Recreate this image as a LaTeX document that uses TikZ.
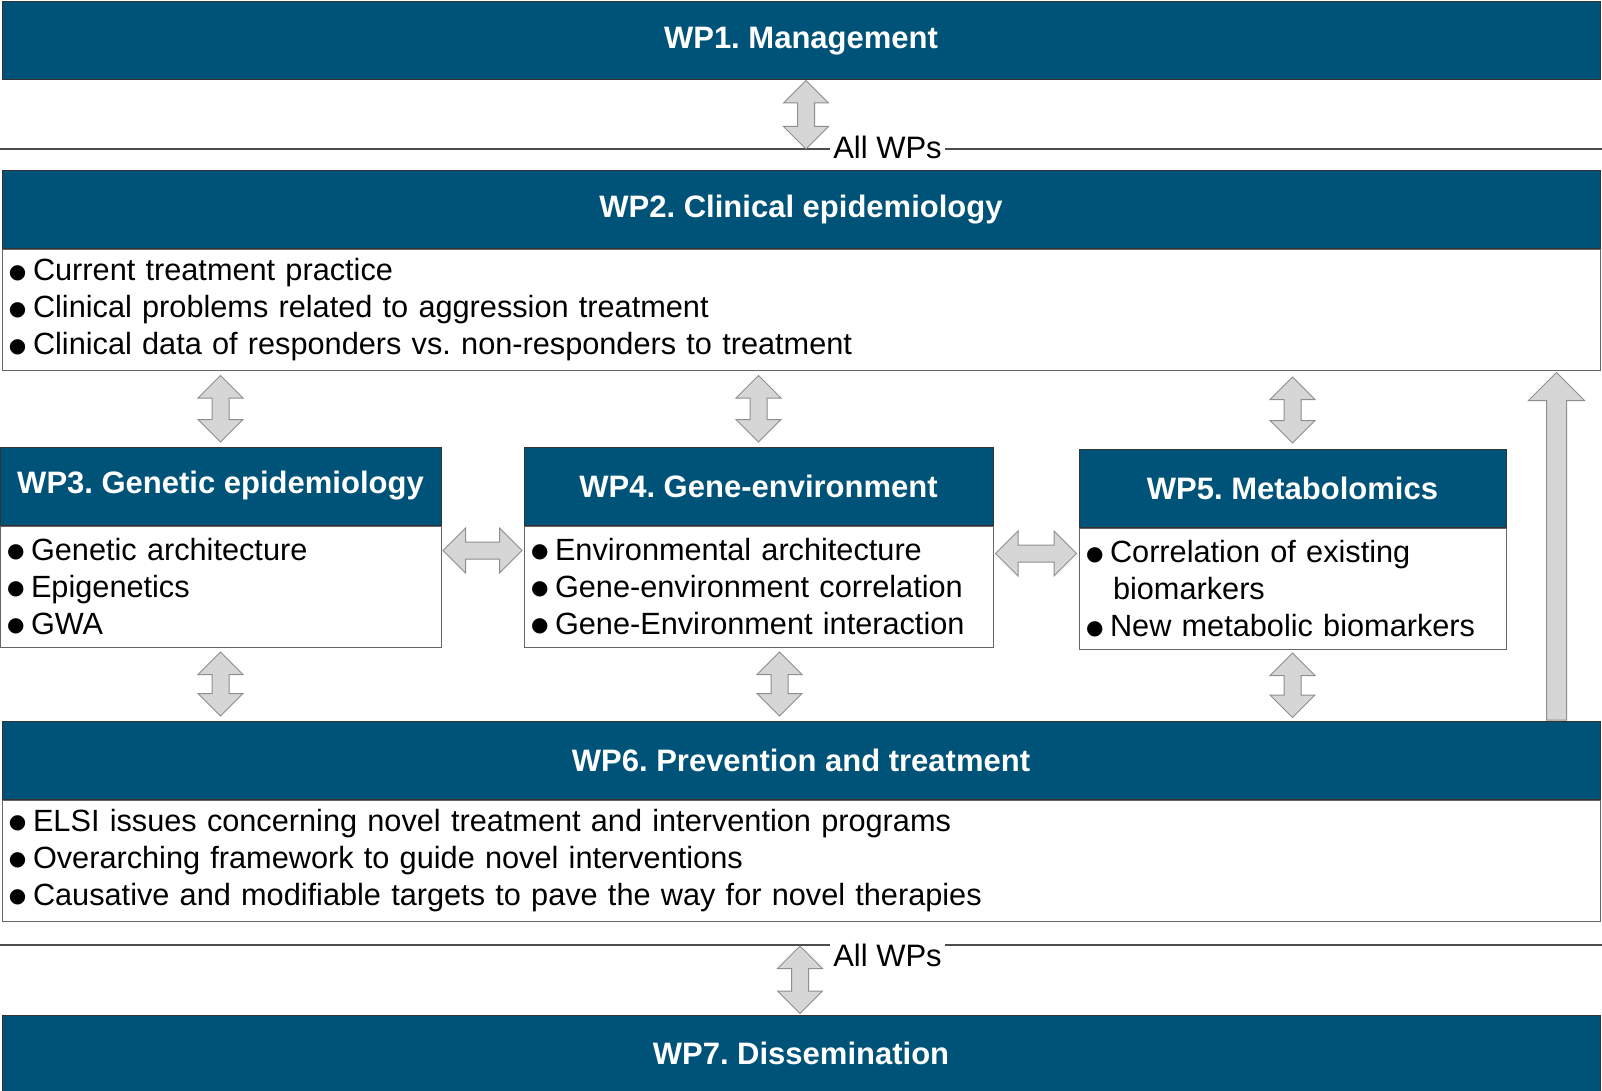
\documentclass[tikz,border=0pt]{standalone}
\usepackage{fontspec}
\setmainfont{Liberation Sans}
\newfontfamily\dotfont{DejaVu Sans}
\usetikzlibrary{positioning,shapes.arrows,calc}
\frenchspacing

\definecolor{wpblue}{HTML}{005378}
\definecolor{arrowfill}{HTML}{D6D6D6}
\definecolor{arrowline}{HTML}{8E8E8E}

\newcommand\wpbullet{\makebox[25pt][l]{\hspace{1pt}\raisebox{2.5pt}{\dotfont\fontsize{20}{20}\selectfont ●}}}

\tikzset{
  wphead/.style={draw=black!80, line width=1pt, fill=wpblue, text=white,
    inner sep=0pt, minimum height=78pt, font=\fontsize{31}{37}\selectfont\bfseries},
  wpbody/.style={draw=black!60, line width=1pt, fill=white, inner xsep=6pt,
    inner ysep=0pt, minimum height=121pt, align=left, font=\fontsize{30.7}{37}\selectfont},
  sepline/.style={draw=black!70, line width=1.3pt},
  allwps/.style={fill=white, inner xsep=3pt, inner ysep=1pt, font=\fontsize{31}{37}\selectfont},
  dblarrow/.style={shape=double arrow, fill=arrowfill, draw=arrowline, line width=1pt,
    inner sep=8pt, minimum width=44pt, double arrow head extend=14pt,
    double arrow tip angle=90, double arrow head indent=0pt},
  bigarrow/.style={shape=single arrow, fill=arrowfill, draw=arrowline, line width=1pt,
    inner sep=9.5pt, minimum width=55pt, single arrow head extend=18pt,
    single arrow tip angle=90, single arrow head indent=0pt},
  blockarrow/.style={to path={let \p1=($(\tikztotarget)-(\tikztostart)$),
    \n1={veclen(\x1,\y1)-#1}, \n2={mod(atan2(\y1,\x1)+360,360)} in
    node[dblarrow, minimum height=\n1, shape border rotate=\n2]
      at ($(\tikztostart)!0.5!(\tikztotarget)$) {}}},
  blockarrow/.default=9,
  uparrow/.style={to path={let \p1=($(\tikztotarget)-(\tikztostart)$),
    \n1={veclen(\x1,\y1)}, \n2={mod(atan2(\y1,\x1)+360,360)} in
    node[bigarrow, minimum height=\n1, shape border rotate=\n2, anchor=tail]
      at (\tikztostart) {}}}
}

\begin{document}
\begin{tikzpicture}[x=1pt,y=-1pt]
\useasboundingbox (0,0) rectangle (1602,1091);

% work packages
\node[wphead, minimum width=1598pt] (wp1) at (801,41) {WP1. Management};

\node[wphead, minimum width=1598pt] (wp2h) at (801,209.5) {WP2. Clinical epidemiology};
\node[wpbody, text width=1586pt, below=0pt of wp2h] (wp2b) {%
  \wpbullet Current treatment practice\\
  \wpbullet Clinical problems related to aggression treatment\\
  \wpbullet Clinical data of responders vs. non-responders to treatment};

\node[wphead, minimum width=441pt] (wp3h) at (220.5,486) {WP3. Genetic epidemiology};
\node[wpbody, text width=429pt, below=0pt of wp3h] (wp3b) {%
  \wpbullet Genetic architecture\\
  \wpbullet Epigenetics\\
  \wpbullet GWA};

\node[wphead, minimum width=469pt] (wp4h) at (758.5,486) {WP4. Gene-environment};
\node[wpbody, text width=457pt, below=0pt of wp4h] (wp4b) {%
  \wpbullet Environmental architecture\\
  \wpbullet Gene-environment correlation\\
  \wpbullet Gene-Environment interaction};

\node[wphead, minimum width=427pt] (wp5h) at (1292.5,488.5) {WP5. Metabolomics};
\node[wpbody, text width=415pt, below=0pt of wp5h] (wp5b) {%
  \wpbullet Correlation of existing\\
  \hspace*{28pt}biomarkers\\
  \wpbullet New metabolic biomarkers};

\node[wphead, minimum width=1598pt] (wp6h) at (801,760) {WP6. Prevention and treatment};
\node[wpbody, text width=1586pt, below=0pt of wp6h] (wp6b) {%
  \wpbullet ELSI issues concerning novel treatment and intervention programs\\
  \wpbullet Overarching framework to guide novel interventions\\
  \wpbullet Causative and modifiable targets to pave the way for novel therapies};

\node[wphead, minimum width=1598pt, minimum height=77pt] (wp7) at (801,1053.5) {WP7. Dissemination};

% separators
\coordinate (s1w) at (0,149);
\coordinate (s1e) at (1602,149);
\coordinate (s2w) at (0,945);
\coordinate (s2e) at (1602,945);
\draw[sepline] (s1w) -- node[allwps, pos=0.554, yshift=2pt] (all1) {All WPs} (s1e);
\draw[sepline] (s2w) -- node[allwps, pos=0.554, anchor=north, inner ysep=0pt, yshift=2pt] (all2) {All WPs} (s2e);

% arrows
\coordinate (a1) at (806,149);
\coordinate (a2) at (800,945);
\coordinate (h34) at ([yshift=-25]wp3b.north east);
\coordinate (h45) at ([yshift=-28]wp4b.north east);
\coordinate (v46) at ([xshift=21]wp4b.south);
\coordinate (up) at (1556.5,373);

\path (wp1.south -| a1) to[blockarrow=0] (a1);
\path (wp2b.south -| wp3h) to[blockarrow] (wp3h.north);
\path (wp2b.south -| wp4h) to[blockarrow] (wp4h.north);
\path (wp2b.south -| wp5h) to[blockarrow=12] (wp5h.north);
\path (h34) to[blockarrow=3] (h34 -| wp4b.west);
\path (h45) to[blockarrow=4] (h45 -| wp5b.west);
\path (wp3b.south) to[blockarrow] (wp6h.north -| wp3b);
\path (v46) to[blockarrow] (v46 |- wp6h.north);
\path (wp5b.south) to[blockarrow=6] (wp6h.north -| wp5b);
\path (wp6h.north -| up) to[uparrow] (up);
\path (a2) to[blockarrow=2] (a2 |- wp7.north);
\end{tikzpicture}
\end{document}
